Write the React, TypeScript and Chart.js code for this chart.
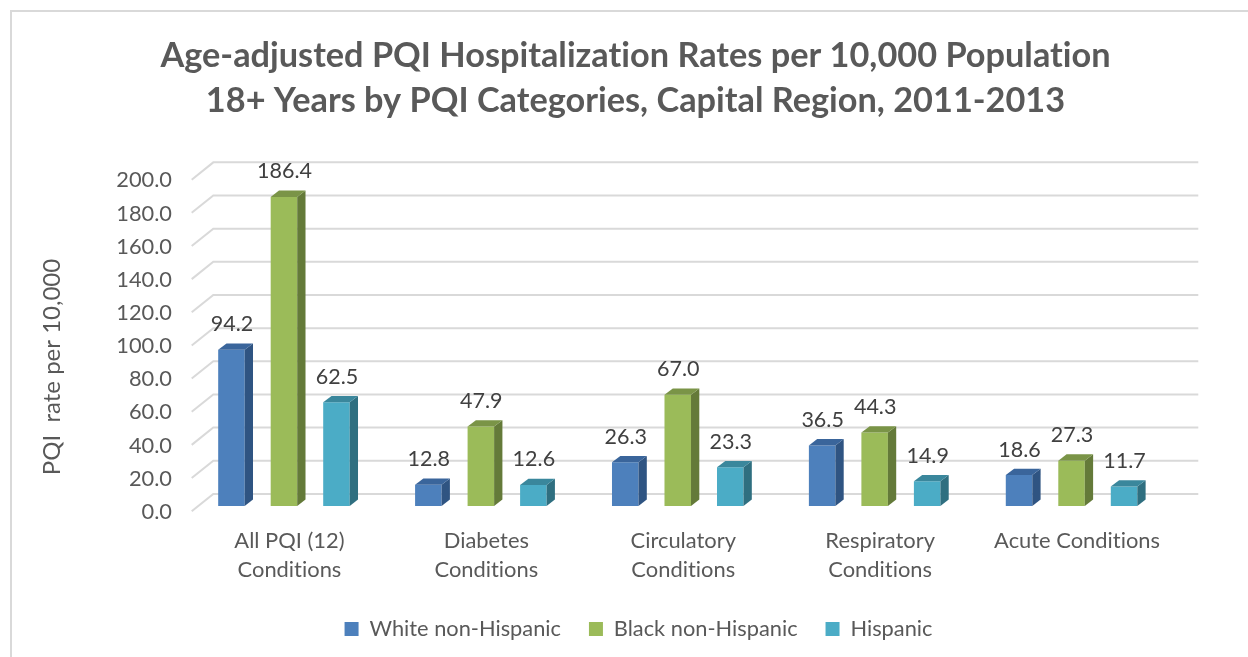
import React, { useEffect, useRef } from "react";
import { Chart, registerables } from "chart.js";

Chart.register(...registerables);

const categories = [
  ["All PQI (12)", "Conditions"],
  ["Diabetes", "Conditions"],
  ["Circulatory", "Conditions"],
  ["Respiratory", "Conditions"],
  ["Acute Conditions"],
];
const whiteNonHispanic = [94.2, 12.8, 26.3, 36.5, 18.6];
const blackNonHispanic = [186.4, 47.9, 67.0, 44.3, 27.3];
const hispanic = [62.5, 12.6, 23.3, 14.9, 11.7];
const titleLines = [
  "Age-adjusted PQI Hospitalization Rates per 10,000 Population",
  "18+ Years by PQI Categories, Capital Region, 2011-2013",
];
const yAxisTitle = "PQI  rate per 10,000";

const FONT = "Lato, 'Open Sans', sans-serif";
const faceColors = [
  { front: "#4d80bc", side: "#2f5482", top: "#3a659b" },
  { front: "#9bbb59", side: "#647a39", top: "#7a9447" },
  { front: "#4bacc6", side: "#2f6f80", top: "#3a879c" },
];

const decoration = {
  id: "decoration",
  afterLayout(chart: any) {
    chart.legend.left += 3;
    chart.legend.right += 3;
  },
  beforeDraw(chart: any) {
    const { ctx, width, height } = chart;
    ctx.textRendering = "optimizeSpeed";
    ctx.save();
    ctx.fillStyle = "#ffffff";
    ctx.fillRect(0, 0, width, height);
    ctx.strokeStyle = "#d9d9d9";
    ctx.lineWidth = 2;
    ctx.beginPath();
    ctx.moveTo(11, height);
    ctx.lineTo(11, 11);
    ctx.lineTo(width, 11);
    ctx.stroke();
    ctx.restore();
  },
  beforeDatasetsDraw(chart: any) {
    const { ctx, scales } = chart;
    const y = scales.y;
    ctx.save();
    ctx.strokeStyle = "#d9d9d9";
    ctx.lineWidth = 2;
    y.ticks.forEach((t: any) => {
      const py = y.getPixelForValue(t.value);
      ctx.beginPath();
      ctx.moveTo(191.7, py + 5.3);
      ctx.lineTo(213.3, py - 12);
      ctx.lineTo(1198.3, py - 12);
      ctx.stroke();
    });
    ctx.restore();
  },
  afterDatasetsDraw(chart: any) {
    const { ctx } = chart;
    const dx = 8.3;
    const dy = -6.3;
    ctx.save();
    chart.data.datasets.forEach((ds: any, i: number) => {
      const c = faceColors[i];
      chart.getDatasetMeta(i).data.forEach((bar: any, j: number) => {
        const l = bar.x - bar.width / 2;
        const r = bar.x + bar.width / 2;
        const t = bar.y;
        const b = bar.base;
        ctx.fillStyle = c.side;
        ctx.beginPath();
        ctx.moveTo(r, t);
        ctx.lineTo(r + dx, t + dy);
        ctx.lineTo(r + dx, b + dy);
        ctx.lineTo(r, b);
        ctx.closePath();
        ctx.fill();
        ctx.fillStyle = c.top;
        ctx.beginPath();
        ctx.moveTo(l, t);
        ctx.lineTo(l + dx, t + dy);
        ctx.lineTo(r + dx, t + dy);
        ctx.lineTo(r, t);
        ctx.closePath();
        ctx.fill();
        ctx.fillStyle = "#404040";
        ctx.font = `21.5px ${FONT}`;
        ctx.textAlign = "center";
        ctx.textBaseline = "middle";
        ctx.fillText(ds.data[j].toFixed(1), bar.x + 0.5, t - 25.5);
      });
    });
    ctx.translate(52, 367);
    ctx.rotate(-Math.PI / 2);
    ctx.fillStyle = "#595959";
    ctx.font = `24px ${FONT}`;
    ctx.textAlign = "center";
    ctx.textBaseline = "middle";
    ctx.fillText(yAxisTitle, 0, 0);
    ctx.restore();
  },
};

export default function App() {
  const ref = useRef<HTMLCanvasElement>(null);
  useEffect(() => {
    const mk = (label: string, data: number[], i: number) => ({
      label,
      data,
      backgroundColor: faceColors[i].front,
      barPercentage: 0.505,
      categoryPercentage: 0.8,
    });
    const chart = new Chart(ref.current!, {
      type: "bar",
      data: {
        labels: categories,
        datasets: [
          mk("White non-Hispanic", whiteNonHispanic, 0),
          mk("Black non-Hispanic", blackNonHispanic, 1),
          mk("Hispanic", hispanic, 2),
        ],
      },
      plugins: [decoration],
      options: {
        animation: false,
        responsive: false,
        layout: { padding: { left: 101, right: 78, top: 33.5, bottom: 7 } },
        plugins: {
          tooltip: { enabled: false },
          title: {
            display: true,
            text: titleLines,
            color: "#595959",
            font: { family: FONT, size: 34.3, weight: "bold", lineHeight: 1.31 },
            padding: { top: 0, bottom: 51 },
          },
          legend: {
            position: "bottom",
            labels: {
              color: "#595959",
              font: { family: FONT, size: 21.8 },
              boxWidth: 14,
              boxHeight: 14,
              padding: 28,
            },
          },
        },
        scales: {
          x: {
            grid: { display: false },
            border: { display: false },
            ticks: {
              color: "#595959",
              font: { family: FONT, size: 21.9, lineHeight: 1.32 },
              labelOffset: 5.5,
              maxRotation: 0,
              autoSkip: false,
              padding: 12.3,
            },
            afterFit(s: any) { s.height = 84.3; },
          },
          y: {
            min: 0,
            max: 200,
            grid: { display: false },
            border: { display: false },
            ticks: {
              stepSize: 20,
              color: "#595959",
              font: { family: FONT, size: 21.8 },
              labelOffset: 6,
              padding: 5.5,
              callback: (v: any) => Number(v).toFixed(1),
            },
            afterFit(s: any) { s.width = 84.5; },
          },
        },
      },
    } as any);
    return () => chart.destroy();
  }, []);
  return (
    <canvas
      ref={ref}
      width={1248}
      height={657}
      style={{ position: "fixed", left: 0, top: 0, width: 1248, height: 657 }}
    />
  );
}
